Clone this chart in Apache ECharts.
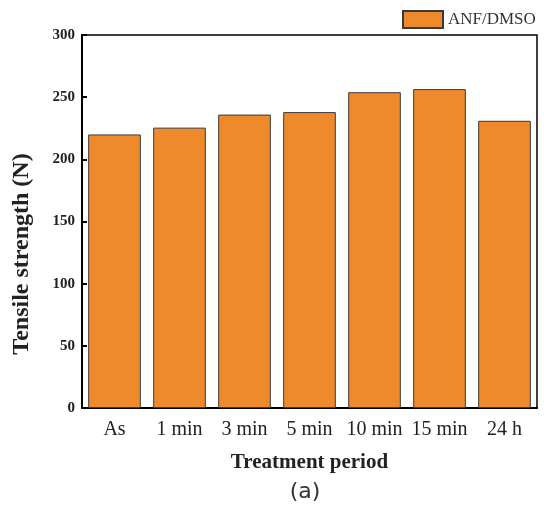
<!DOCTYPE html>
<html>
<head>
<meta charset="utf-8">
<script src="https://cdn.jsdelivr.net/npm/echarts@6/dist/echarts.min.js"></script>
<style>html,body{margin:0;padding:0;background:#fff;}#c{width:544px;height:507px;}</style>
</head>
<body>
<div id="c"></div>
<script>
const categories = ['As', '1 min', '3 min', '5 min', '10 min', '15 min', '24 h'];
const tensileStrength = [220, 225.5, 236, 238, 254, 256.5, 231];
const seriesName = 'ANF/DMSO';
const yTicks = { min: 0, max: 300, interval: 50 };

const serif = '"Liberation Serif", "Times New Roman", serif';
const chart = echarts.init(document.getElementById('c'), null, { renderer: 'canvas' });
chart.setOption({
  animation: false,
  backgroundColor: '#fff',
  grid: { left: 82, right: 7, top: 35, bottom: 99, show: true, borderColor: '#000', borderWidth: 1.5, backgroundColor: 'transparent' },
  legend: {
    left: 397, top: 5, itemWidth: 40, itemHeight: 17, itemGap: 10,
    textStyle: { fontFamily: serif, fontSize: 17, color: '#333' },
    data: [{ name: seriesName, icon: 'rect' }]
  },
  xAxis: {
    type: 'category', data: categories,
    axisLine: { lineStyle: { color: '#000', width: 2 } },
    axisTick: { inside: true, alignWithLabel: true, length: 5, lineStyle: { color: '#000', width: 2 } },
    axisLabel: { interval: 0, fontFamily: serif, fontSize: 20, color: '#222', margin: 12 },
    name: 'Treatment period', nameLocation: 'middle', nameGap: 44,
    nameTextStyle: { fontFamily: serif, fontSize: 21, fontWeight: 'bold', color: '#222' }
  },
  yAxis: {
    type: 'value', min: yTicks.min, max: yTicks.max, interval: yTicks.interval,
    splitLine: { show: false },
    axisLine: { show: true, lineStyle: { color: '#000', width: 2 } },
    axisTick: { show: true, inside: true, length: 5, lineStyle: { color: '#000', width: 2 } },
    axisLabel: { fontFamily: serif, fontSize: 15, fontWeight: 'bold', color: '#222', margin: 7 }
  },
  graphic: [
    { type: 'text', x: 22, y: 254, rotation: Math.PI / 2,
      style: { text: 'Tensile strength (N)', font: 'bold 24px ' + serif, fill: '#222', align: 'center', verticalAlign: 'middle' } },
    { type: 'text', x: 305, y: 492,
      style: { text: '(a)', font: '22px "DejaVu Sans", sans-serif', fill: '#333', align: 'center', verticalAlign: 'middle' } }
  ],
  series: [{
    name: seriesName, type: 'bar', data: tensileStrength, barCategoryGap: '19%',
    itemStyle: { color: '#EF8A2C', borderColor: '#3a3a3a', borderWidth: 1 }
  }]
});
</script>
</body>
</html>
